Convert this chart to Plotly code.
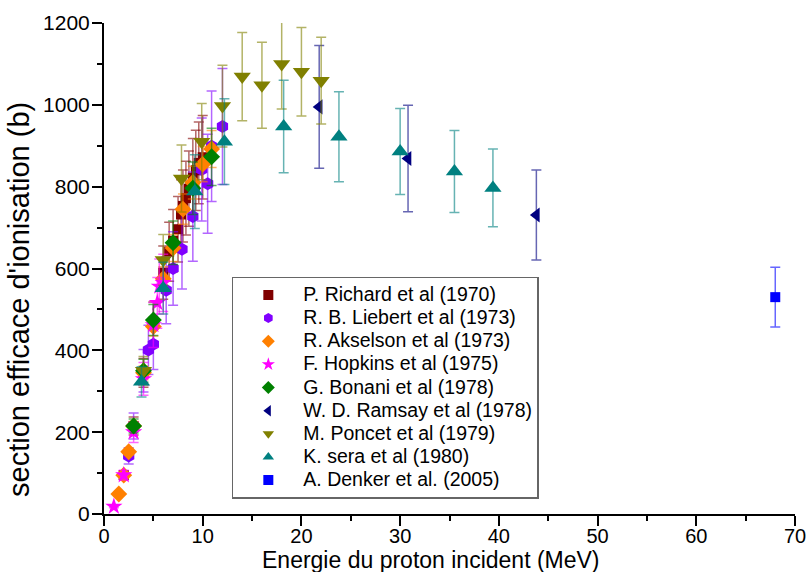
import plotly.graph_objects as go

# ---- data ----
names = ["P. Richard et al (1970)", "R. B. Liebert et al (1973)", "R. Akselson et al (1973)",
         "F. Hopkins et al (1975)", "G. Bonani et al (1978)", "W. D. Ramsay et al (1978)",
         "M. Poncet et al (1979)", "K. sera et al (1980)", "A. Denker et al. (2005)"]

richard_x = [2.0, 3.0, 4.0, 5.0, 6.0, 6.6, 7.0, 7.5, 7.8, 8.0, 8.3, 8.6, 9.0, 9.3, 9.6, 10.0]
richard_y = [95, 215, 345, 468, 590, 641, 668, 696, 732, 753, 772, 795, 822, 840, 858, 872]
richard_e = [10, 22, 35, 50, 65, 72, 76, 80, 85, 88, 90, 92, 96, 98, 100, 102]

liebert_x = [2.5, 3.0, 4.0, 4.5, 5.0, 6.3, 7.0, 7.9, 9.0, 9.9, 10.5, 10.9, 12.0]
liebert_y = [142, 215, 350, 401, 415, 547, 600, 647, 727, 842, 807, 899, 947]
liebert_e = [20, 32, 52, 60, 62, 82, 90, 97, 109, 126, 121, 135, 142]

akselson_x = [1.5, 2.0, 2.5, 3.0, 4.0, 5.0, 6.0, 7.0, 8.0, 9.0, 10.0, 10.9]
akselson_y = [49, 95, 152, 215, 345, 458, 575, 650, 745, 810, 855, 892]
akselson_e = [3, 5, 8, 11, 17, 23, 29, 33, 37, 40, 43, 45]

hopkins_x = [1.0, 2.0, 3.0, 4.0, 5.0, 5.4, 5.6, 6.0]
hopkins_y = [18, 95, 200, 330, 462, 516, 556, 565]
hopkins_e = [3, 12, 25, 40, 55, 62, 67, 70]

bonani_x = [3.0, 4.0, 5.0, 7.0, 9.0, 10.9]
bonani_y = [215, 350, 474, 663, 796, 873]
bonani_e = [17, 28, 38, 53, 64, 70]

ramsay_x = [21.8, 30.8, 43.8]
ramsay_y = [995, 869, 731]
ramsay_e = [150, 130, 110]

poncet_x = [4.0, 6.0, 7.85, 9.9, 12.0, 14.0, 16.0, 18.0, 20.0, 22.0]
poncet_y = [350, 621, 820, 910, 997, 1069, 1048, 1100, 1081, 1059]
poncet_e = [35, 62, 82, 93, 100, 108, 105, 110, 108, 106]

sera_x = [3.8, 6.0, 9.2, 12.2, 18.2, 23.8, 30.0, 35.5, 39.4]
sera_y = [323, 552, 788, 910, 947, 922, 886, 837, 797]
sera_e = [37, 63, 90, 105, 113, 110, 105, 100, 95]

denker_x = [68.0]
denker_y = [530]
denker_e = [73]

x_ticks = [0, 10, 20, 30, 40, 50, 60, 70]
y_ticks = [0, 200, 400, 600, 800, 1000, 1200]

x_title = "Energie du proton incident (MeV)"
y_title = "section efficace d'ionisation (b)"

series = [
    (richard_x, richard_y, richard_e, "square", "#800000", "rgba(128,0,0,0.6)", 10),
    (liebert_x, liebert_y, liebert_e, "hexagon", "#8000FF", "rgba(128,0,255,0.6)", 13),
    (akselson_x, akselson_y, akselson_e, "diamond", "#FF8000", "rgba(255,128,0,0.6)", 13),
    (hopkins_x, hopkins_y, hopkins_e, "star", "#FF00FF", "rgba(255,0,255,0.6)", 13),
    (bonani_x, bonani_y, bonani_e, "diamond", "#008000", "rgba(0,128,0,0.6)", 13),
    (ramsay_x, ramsay_y, ramsay_e, "triangle-left", "#000080", "rgba(0,0,128,0.6)", 13),
    (poncet_x, poncet_y, poncet_e, "triangle-down", "#808000", "rgba(128,128,0,0.6)", 15),
    (sera_x, sera_y, sera_e, "triangle-up", "#008080", "rgba(0,128,128,0.6)", 15),
    (denker_x, denker_y, denker_e, "square", "#0000FF", "rgba(0,0,255,0.6)", 10),
]

FONT = "Liberation Sans, Arial, sans-serif"
fig = go.Figure()

for name, (xs, ys, es, sym, col, ecol, size) in zip(names, series):
    fig.add_trace(go.Scatter(
        x=xs, y=ys, mode="markers", showlegend=False, name=name,
        marker=dict(symbol=sym, color=col, size=size, line=dict(width=0)),
        error_y=dict(type="data", array=es, visible=True, color=ecol, thickness=1.5, width=5),
    ))

# legend entries (text drawn at 19.5px, row height set by the legend font)
for name, (xs, ys, es, sym, col, ecol, size) in zip(names, series):
    fig.add_trace(go.Scatter(
        x=[None], y=[None], mode="markers", showlegend=True,
        name=f'<span style="font-size:19.5px">{name}</span>',
        marker=dict(symbol=sym, color=col, size=10, line=dict(width=0)),
    ))

axis_common = dict(showgrid=False, zeroline=False, showline=True, linecolor="black",
                   linewidth=2, tickcolor="black", tickwidth=2, ticklen=10, automargin=False)

fig.update_layout(
    width=806, height=572,
    margin=dict(l=104, r=11, t=23, b=58),
    paper_bgcolor="white", plot_bgcolor="white",
    font=dict(family=FONT, color="black", size=20),
    xaxis=dict(range=[0, 70], tickvals=x_ticks, ticks="outside", ticklabelstandoff=-7,
               ticklabeloverflow="allow",
               minor=dict(dtick=5, ticks="outside", ticklen=5, tickwidth=2, tickcolor="black"),
               tickfont=dict(size=20), **axis_common),
    yaxis=dict(range=[0, 1200], tickvals=y_ticks, ticks="outside", ticklabelstandoff=-2,
               minor=dict(dtick=100, ticks="outside", ticklen=5, tickwidth=2, tickcolor="black"),
               tickfont=dict(size=21), **axis_common),
    xaxis2=dict(range=[0, 70], overlaying="x", side="top", tickvals=x_ticks, ticks="inside",
                showticklabels=False,
                minor=dict(dtick=5, ticks="inside", ticklen=5, tickwidth=2, tickcolor="black"),
                **axis_common),
    yaxis2=dict(range=[0, 1200], overlaying="y", side="right", tickvals=y_ticks, ticks="inside",
                showticklabels=False,
                minor=dict(dtick=100, ticks="inside", ticklen=5, tickwidth=2, tickcolor="black"),
                **axis_common),
    legend=dict(x=0.185, y=0.483, xanchor="left", yanchor="top",
                bgcolor="white", bordercolor="#666666", borderwidth=1.5,
                font=dict(size=15.5, family=FONT), itemwidth=60, tracegroupgap=0),
    annotations=[
        dict(text=x_title, xref="paper", yref="paper", x=0.473, y=-0.0937,
             xanchor="center", yanchor="middle", showarrow=False, font=dict(size=23)),
        dict(text=y_title, xref="paper", yref="paper", x=-0.123, y=0.436, textangle=-90,
             xanchor="center", yanchor="middle", showarrow=False, font=dict(size=29)),
    ],
)

fig.write_html(
    "out.html",
    config={"displayModeBar": False},
    post_script="document.body.style.margin='0';document.body.style.overflow='hidden';",
)
